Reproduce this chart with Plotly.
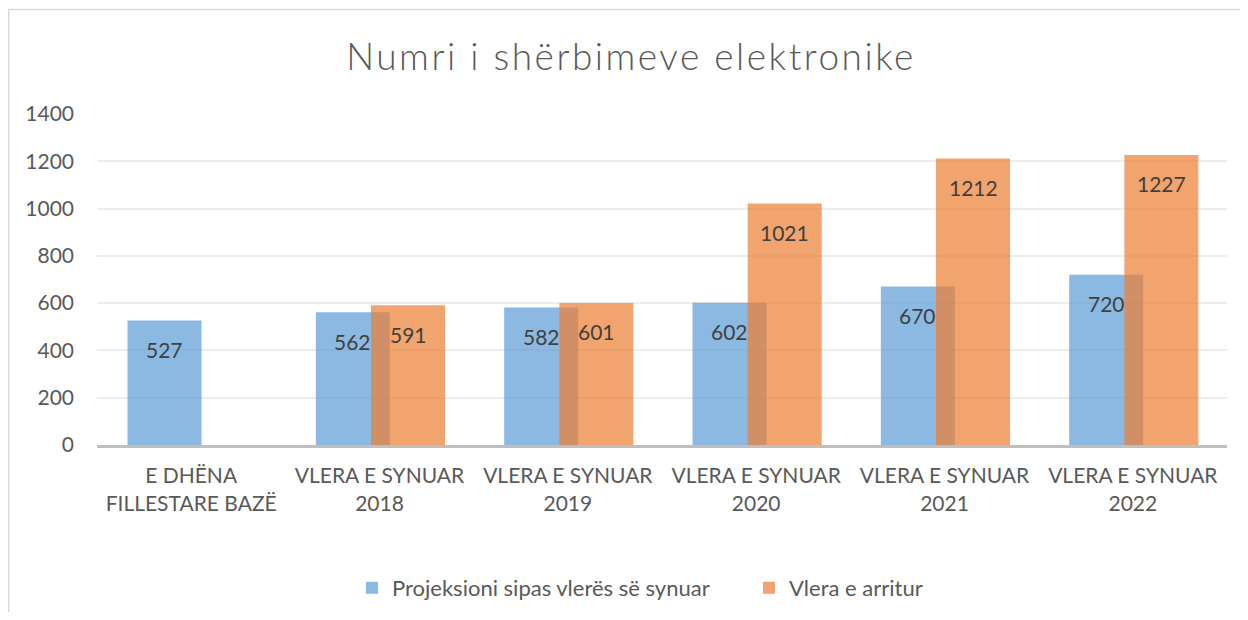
import plotly.graph_objects as go

categories = ["E DHËNA<br>FILLESTARE BAZË", "VLERA E SYNUAR<br>2018", "VLERA E SYNUAR<br>2019",
              "VLERA E SYNUAR<br>2020", "VLERA E SYNUAR<br>2021", "VLERA E SYNUAR<br>2022"]
projeksioni = [527, 562, 582, 602, 670, 720]
arritur = [None, 591, 601, 1021, 1212, 1227]
series_names = ["Projeksioni sipas vlerës së synuar", "Vlera e arritur"]
title_text = "Numri i shërbimeve elektronike"
y_ticks = [0, 200, 400, 600, 800, 1000, 1200, 1400]

FONT = "Lato"
TXT = "#595959"
LBL = "#404040"
BLUE = "rgba(91,155,213,0.7)"
ORANGE = "rgba(237,125,49,0.7)"

W = 0.393
OFF_B = -0.338
OFF_O = -0.045

# page body has an 8px margin: figure occupies page (8,8)-(1240,612)
PX0, PY0 = 8, 8
FW, FH = 1232, 604
PL, PR, PT, PB = 97, 1227, 114, 445  # plot area in page pixels


def px_x(p):
    return (p - PL) / (PR - PL)


def px_y(p):
    return (PB - p) / (PB - PT)


fig = go.Figure()
fig.add_trace(go.Bar(x=categories, y=projeksioni, name=series_names[0],
                     marker=dict(color=BLUE, line=dict(width=0)),
                     width=W, offset=OFF_B, hoverinfo="y"))
fig.add_trace(go.Bar(x=categories, y=arritur, name=series_names[1],
                     marker=dict(color=ORANGE, line=dict(width=0)),
                     width=W, offset=OFF_O, hoverinfo="y"))

annotations = []
for i, v in enumerate(projeksioni):
    annotations.append(dict(x=i + OFF_B + W / 2, y=v, xref="x", yref="y", text=str(v),
                            showarrow=False, yanchor="middle", yshift=-29,
                            font=dict(family=FONT, size=21, color=LBL)))
for i, v in enumerate(arritur):
    if v is None:
        continue
    annotations.append(dict(x=i + OFF_O + W / 2, y=v, xref="x", yref="y", text=str(v),
                            showarrow=False, yanchor="middle", yshift=-29,
                            font=dict(family=FONT, size=21, color=LBL)))

fig.update_layout(
    width=FW, height=FH,
    margin=dict(l=PL - PX0, r=PX0 + FW - PR, t=PT - PY0, b=PY0 + FH - PB),
    paper_bgcolor="white", plot_bgcolor="white",
    barmode="overlay",
    title=dict(text='<span style="letter-spacing:2.5px">' + title_text + '</span>',
               x=px_x(631), xref="paper", xanchor="center",
               y=1 - (57 - PY0) / FH, yanchor="middle",
               font=dict(family=FONT, size=37, color=TXT, weight=300)),
    font=dict(family=FONT, color=TXT),
    showlegend=True,
    legend=dict(orientation="h", xref="container", yref="container",
                x=(352 - PX0) / FW, xanchor="left",
                y=1 - (588 - PY0) / FH, yanchor="middle",
                font=dict(family=FONT, size=22, color=TXT), traceorder="normal",
                itemwidth=30, entrywidth=352, entrywidthmode="pixels",
                bgcolor="rgba(0,0,0,0)"),
    annotations=annotations,
    shapes=[dict(type="rect", xref="paper", yref="paper",
                 x0=px_x(8.7), x1=px_x(1262),
                 y0=px_y(640), y1=px_y(9.5),
                 line=dict(color="#D9D9D9", width=1.5), fillcolor="rgba(0,0,0,0)", layer="below")],
)
fig.update_xaxes(type="category", range=[-0.5, 5.5], showgrid=False, showline=True,
                 linecolor="#BFBFBF", linewidth=3, ticks="", ticklabelstandoff=10,
                 tickfont=dict(family=FONT, size=21, color=TXT), zeroline=False, fixedrange=True)
fig.update_yaxes(range=[0, 1400], tickvals=y_ticks, showgrid=True, gridcolor="#EDEDED",
                 gridwidth=1.5, zeroline=False, showline=False, ticks="",
                 ticklabelstandoff=22, tickfont=dict(family=FONT, size=21, color=TXT), fixedrange=True)

fig.write_html("out.html")
